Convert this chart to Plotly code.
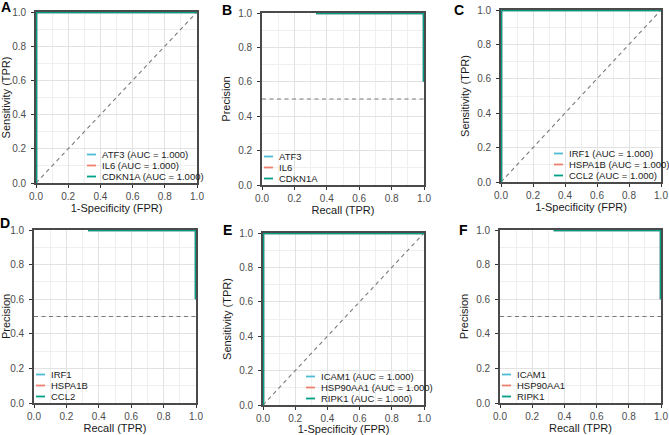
import plotly.graph_objects as go

FONT = "Liberation Sans, Arial, sans-serif"
W, H = 669, 435

# ---------------- data ----------------
genes_A = ["ATF3", "IL6", "CDKN1A"]
genes_C = ["IRF1", "HSPA1B", "CCL2"]
genes_E = ["ICAM1", "HSP90AA1", "RIPK1"]
auc_A = [1.000, 1.000, 1.000]
auc_C = [1.000, 1.000, 1.000]
auc_E = [1.000, 1.000, 1.000]

roc_fpr = [0.0, 0.0, 1.0]
roc_tpr = [0.0, 1.0, 1.0]
pr_recall = [1 / 3, 2 / 3, 1.0, 1.0]
pr_precision = [1.0, 1.0, 1.0, 0.6]
pr_baseline = 0.5
diag_x = [0.0, 1.0]
diag_y = [0.0, 1.0]

tick_vals = [0.0, 0.2, 0.4, 0.6, 0.8, 1.0]
tick_text = ["0.0", "0.2", "0.4", "0.6", "0.8", "1.0"]

colors = ["#4DBBD5", "#EE8070", "#00A087"]

# ---------------- layout spec (pixels) ----------------
# letter, kind, genes, aucs, (left, right, top, bottom), legend text offset, letter pos
panels = [
    ("A", "roc", genes_A, auc_A, (36, 197, 12, 183), 65, (6.5, 7)),
    ("B", "pr", genes_A, None, (262, 424, 13, 185), 16, (227, 10)),
    ("C", "roc", genes_C, auc_C, (501, 661, 10, 182), 67, (459, 10)),
    ("D", "pr", genes_C, None, (34, 196, 230, 403), 16, (4.5, 223)),
    ("E", "roc", genes_E, auc_E, (263, 424, 233, 405), 57, (227, 230)),
    ("F", "pr", genes_E, None, (500, 661, 230, 403), 16, (463, 230)),
]


def px_x(v):
    return v / W


def px_y(v):
    return 1 - v / H


fig = go.Figure()
layout = dict(
    width=W, height=H,
    margin=dict(l=0, r=0, t=0, b=0, autoexpand=False),
    paper_bgcolor="white", plot_bgcolor="white",
    showlegend=False,
    font=dict(family=FONT, color="#000000"),
)
annotations = []
shapes = []
dash_line = dict(color="#7A7A7A", width=1.1, dash="4px,3.5px")

for k, (letter, kind, genes, aucs, (l, r, t, b), leg_off, (lx, ly)) in enumerate(panels, start=1):
    xa = "x" if k == 1 else f"x{k}"
    ya = "y" if k == 1 else f"y{k}"
    if kind == "roc":
        fig.add_trace(go.Scatter(x=diag_x, y=diag_y, mode="lines", xaxis=xa, yaxis=ya,
                                 line=dash_line, hoverinfo="skip"))
        for g, c in zip(genes, colors):
            fig.add_trace(go.Scatter(x=roc_fpr, y=roc_tpr, mode="lines", name=g,
                                     xaxis=xa, yaxis=ya, line=dict(color=c, width=2.5)))
        xtitle, ytitle = "1-Specificity (FPR)", "Sensitivity (TPR)"
        labels = [f"{g} (AUC = {a:.3f})" for g, a in zip(genes, aucs)]
    else:
        fig.add_trace(go.Scatter(x=diag_x, y=[pr_baseline, pr_baseline], mode="lines",
                                 xaxis=xa, yaxis=ya, line=dash_line, hoverinfo="skip"))
        for g, c in zip(genes, colors):
            fig.add_trace(go.Scatter(x=pr_recall, y=pr_precision, mode="lines", name=g,
                                     xaxis=xa, yaxis=ya, line=dict(color=c, width=2.5)))
        xtitle, ytitle = "Recall (TPR)", "Precision"
        labels = list(genes)

    common = dict(
        range=[0, 1], tickmode="array", tickvals=tick_vals, ticktext=tick_text,
        showgrid=True, gridcolor="#E2E2E2", gridwidth=1,
        minor=dict(dtick=0.1, showgrid=True, gridcolor="#EFEFEF", gridwidth=0.8, ticks=""),
        zeroline=False, showline=True, mirror=True, linecolor="#4A4A4A", linewidth=1.7,
        ticks="outside", ticklen=3, tickwidth=1, tickcolor="#333333",
        tickfont=dict(size=10, color="#4D4D4D", family=FONT),
        layer="below traces", fixedrange=True, automargin=False,
    )
    layout[f"xaxis{'' if k == 1 else k}"] = dict(
        common, domain=[px_x(l), px_x(r)], anchor=ya,
        title=dict(text=xtitle, font=dict(size=11, color="#1A1A1A", family=FONT), standoff=3),
    )
    layout[f"yaxis{'' if k == 1 else k}"] = dict(
        common, domain=[px_y(b), px_y(t)], anchor=xa, ticklabelstandoff=3,
        title=dict(text=ytitle, font=dict(size=11, color="#1A1A1A", family=FONT), standoff=5),
    )

    # panel letter
    annotations.append(dict(
        x=px_x(lx), y=px_y(ly), xref="paper", yref="paper", text=f"<b>{letter}</b>",
        showarrow=False, xanchor="center", yanchor="middle",
        font=dict(size=14, color="#000000", family=FONT),
    ))

    # legend inside panel
    for i, (lab, c) in enumerate(zip(labels, colors)):
        row_y = b - 6.5 - 11 * (len(labels) - 1 - i)
        tx = l + leg_off
        shapes.append(dict(type="line", xref="paper", yref="paper",
                           x0=px_x(tx - 14), x1=px_x(tx - 5), y0=px_y(row_y), y1=px_y(row_y),
                           line=dict(color=c, width=1.8)))
        annotations.append(dict(
            x=px_x(tx - 1), y=px_y(row_y), xref="paper", yref="paper", text=lab,
            showarrow=False, xanchor="left", yanchor="middle",
            font=dict(size=9.5, color="#1A1A1A", family=FONT),
        ))

layout["annotations"] = annotations
layout["shapes"] = shapes
fig.update_layout(**layout)
fig.write_html("out.html")
